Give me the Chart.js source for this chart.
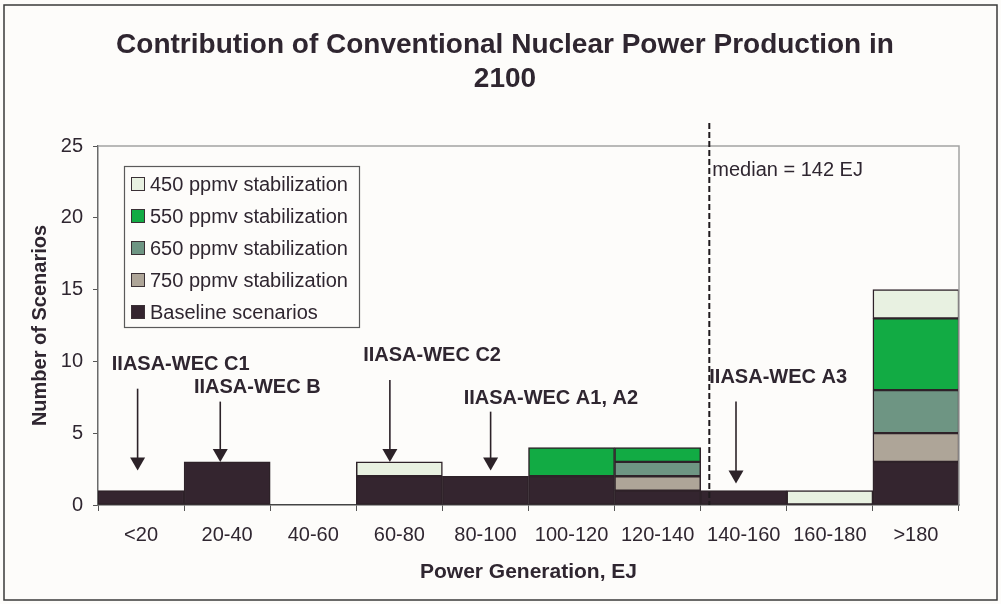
<!DOCTYPE html>
<html><head><meta charset="utf-8">
<script src="https://cdn.jsdelivr.net/npm/chart.js@4.4.1/dist/chart.umd.min.js"></script>
<style>html,body{margin:0;padding:0;background:#fdfcfa;} #wrap{width:1001px;height:604px;}</style>
</head><body><div id="wrap"><canvas id="c" width="1001" height="604"></canvas></div>
<script>
// ---- data ----
const categories = ['<20','20-40','40-60','60-80','80-100','100-120','120-140','140-160','160-180','>180'];
const baseline = [1,3,0,2,2,2,1,1,0,3];
const ppmv750  = [0,0,0,0,0,0,1,0,0,2];
const ppmv650  = [0,0,0,0,0,0,1,0,0,3];
const ppmv550  = [0,0,0,0,0,2,1,0,0,5];
const ppmv450  = [0,0,0,1,0,0,0,0,1,2];
const seriesLabels = ['Baseline scenarios','750 ppmv stabilization','650 ppmv stabilization','550 ppmv stabilization','450 ppmv stabilization'];
const yTicks = [0,5,10,15,20,25];
const titleLines = ['Contribution of Conventional Nuclear Power Production in','2100'];
const xTitle = 'Power Generation, EJ';
const yTitle = 'Number of Scenarios';
const medianEJ = 142;
const binWidthEJ = 20;
const annotationLabels = ['IIASA-WEC C1','IIASA-WEC B','IIASA-WEC C2','IIASA-WEC A1, A2','IIASA-WEC A3'];

// ---- layout / style (not data) ----
const annotationLayout = [
  {ax:-0.04, tip:2.4, top:8.1, lx:0.46, ly:9.8},
  {ax:0.92,  tip:3.0, top:7.2, lx:1.35, ly:8.2},
  {ax:2.89,  tip:3.0, top:8.7, lx:3.38, ly:10.4},
  {ax:4.06,  tip:2.4, top:6.5, lx:4.76, ly:7.45},
  {ax:6.91,  tip:1.5, top:7.2, lx:7.40, ly:8.9}
];
const colors = ['#34252f','#aea598','#6e9583','#12ab44','#e8f1e1'];
const TXT = '#2f2630';
const FONT = "'Liberation Sans', Arial, sans-serif";
Chart.defaults.font.family = FONT;
Chart.defaults.color = TXT;

const seriesData = [baseline, ppmv750, ppmv650, ppmv550, ppmv450];

const deco = {
  id: 'deco',
  beforeDraw(chart) {
    const ctx = chart.ctx;
    ctx.save();
    ctx.fillStyle = '#fdfcfa';
    ctx.fillRect(0, 0, chart.width, chart.height);
    ctx.restore();
  },
  afterDatasetsDraw(chart) {
    const ctx = chart.ctx;
    const a = chart.chartArea;
    const xs = chart.scales.x, ys = chart.scales.y;
    ctx.save();
    // frame top & right
    ctx.strokeStyle = '#a3a3a3';
    ctx.lineWidth = 1.5;
    ctx.beginPath();
    ctx.moveTo(a.left, a.top); ctx.lineTo(a.right, a.top); ctx.lineTo(a.right, a.bottom);
    ctx.stroke();

    // median dashed line
    const mx = xs.getPixelForValue(medianEJ / binWidthEJ - 0.5);
    ctx.strokeStyle = '#1f1a1d';
    ctx.lineWidth = 2;
    ctx.setLineDash([6, 3]);
    ctx.beginPath();
    ctx.moveTo(mx, a.top - 23); ctx.lineTo(mx, a.bottom);
    ctx.stroke();
    ctx.setLineDash([]);
    ctx.fillStyle = TXT;
    ctx.font = '20px ' + FONT;
    ctx.textAlign = 'left'; ctx.textBaseline = 'middle';
    ctx.fillText('median = ' + medianEJ + ' EJ', mx + 3, ys.getPixelForValue(23.3));

    // annotations
    annotationLabels.forEach((lab, i) => {
      const L = annotationLayout[i];
      const x = xs.getPixelForValue(L.ax);
      const yt = ys.getPixelForValue(L.top);
      const yp = ys.getPixelForValue(L.tip);
      const hh = 13, hw = 7.5;
      ctx.strokeStyle = '#2c2228'; ctx.fillStyle = '#2c2228';
      ctx.lineWidth = 1.6;
      ctx.beginPath(); ctx.moveTo(x, yt); ctx.lineTo(x, yp - hh + 1); ctx.stroke();
      ctx.beginPath(); ctx.moveTo(x - hw, yp - hh); ctx.lineTo(x + hw, yp - hh); ctx.lineTo(x, yp); ctx.closePath(); ctx.fill();
      ctx.fillStyle = TXT;
      ctx.font = 'bold 20px ' + FONT;
      ctx.textAlign = 'center'; ctx.textBaseline = 'middle';
      ctx.fillText(lab, xs.getPixelForValue(L.lx), ys.getPixelForValue(L.ly));
    });

    // legend
    const lx = 124, ly = 166, lw = 235, lh = 161;
    ctx.fillStyle = '#fdfcfa';
    ctx.fillRect(lx, ly, lw, lh);
    ctx.strokeStyle = '#5a5a5a'; ctx.lineWidth = 1.2;
    ctx.strokeRect(lx + 0.5, ly + 0.5, lw, lh);
    ctx.font = '20px ' + FONT;
    ctx.textAlign = 'left'; ctx.textBaseline = 'middle';
    for (let k = 0; k < 5; k++) {
      const di = 4 - k;
      const cy = ly + 18 + k * 32;
      ctx.fillStyle = colors[di];
      ctx.fillRect(lx + 7, cy - 7, 14, 14);
      ctx.strokeStyle = '#3a3035'; ctx.lineWidth = 1;
      ctx.strokeRect(lx + 7.5, cy - 6.5, 13, 13);
      ctx.fillStyle = TXT;
      ctx.fillText(chart.data.datasets[di].label, lx + 26, cy + 1);
    }

    // title
    ctx.font = 'bold 28px ' + FONT;
    ctx.textAlign = 'center'; ctx.textBaseline = 'middle';
    ctx.fillStyle = TXT;
    ctx.fillText(titleLines[0], 505, 45);
    ctx.fillText(titleLines[1], 505, 79);

    // outer border
    ctx.strokeStyle = '#3a3a3a'; ctx.lineWidth = 1.5;
    ctx.strokeRect(4, 5, 993, 595);
    ctx.restore();
  }
};

new Chart(document.getElementById('c'), {
  type: 'bar',
  data: {
    labels: categories,
    datasets: seriesData.map((arr, i) => ({
      label: seriesLabels[i],
      data: arr.map(v => v === 0 ? null : v),
      backgroundColor: colors[i],
      borderColor: '#2e2229',
      borderWidth: 1.5,
      borderSkipped: false,
      barPercentage: 1,
      categoryPercentage: 1
    }))
  },
  options: {
    responsive: false,
    animation: false,
    devicePixelRatio: 1,
    layout: { padding: { top: 146, right: 42, left: 0, bottom: 0 } },
    plugins: { legend: { display: false }, tooltip: { enabled: false }, title: { display: false } },
    scales: {
      x: {
        stacked: true,
        grid: { offset: true, drawOnChartArea: false, drawTicks: true, tickLength: 6, color: '#555' },
        border: { color: '#444', width: 1.5 },
        ticks: { font: { size: 20 }, padding: 12, color: TXT, maxRotation: 0, autoSkip: false },
        title: { display: true, text: xTitle, font: { size: 21, weight: 'bold' }, color: TXT, padding: { top: 0, bottom: 19 } },
        afterFit: s => { s.height = 99; }
      },
      y: {
        stacked: true,
        min: 0, max: 25,
        afterBuildTicks: s => { s.ticks = yTicks.map(v => ({ value: v })); },
        grid: { drawOnChartArea: false, drawTicks: true, tickLength: 5, color: '#555' },
        border: { color: '#6a6a6a', width: 1.5 },
        ticks: { font: { size: 20 }, padding: 10, color: TXT },
        title: { display: true, text: yTitle, font: { size: 20, weight: 'bold' }, color: TXT, padding: { top: 28, bottom: 0 } },
        afterFit: s => { s.width = 98; }
      }
    }
  },
  plugins: [deco]
});
</script>
</body></html>
